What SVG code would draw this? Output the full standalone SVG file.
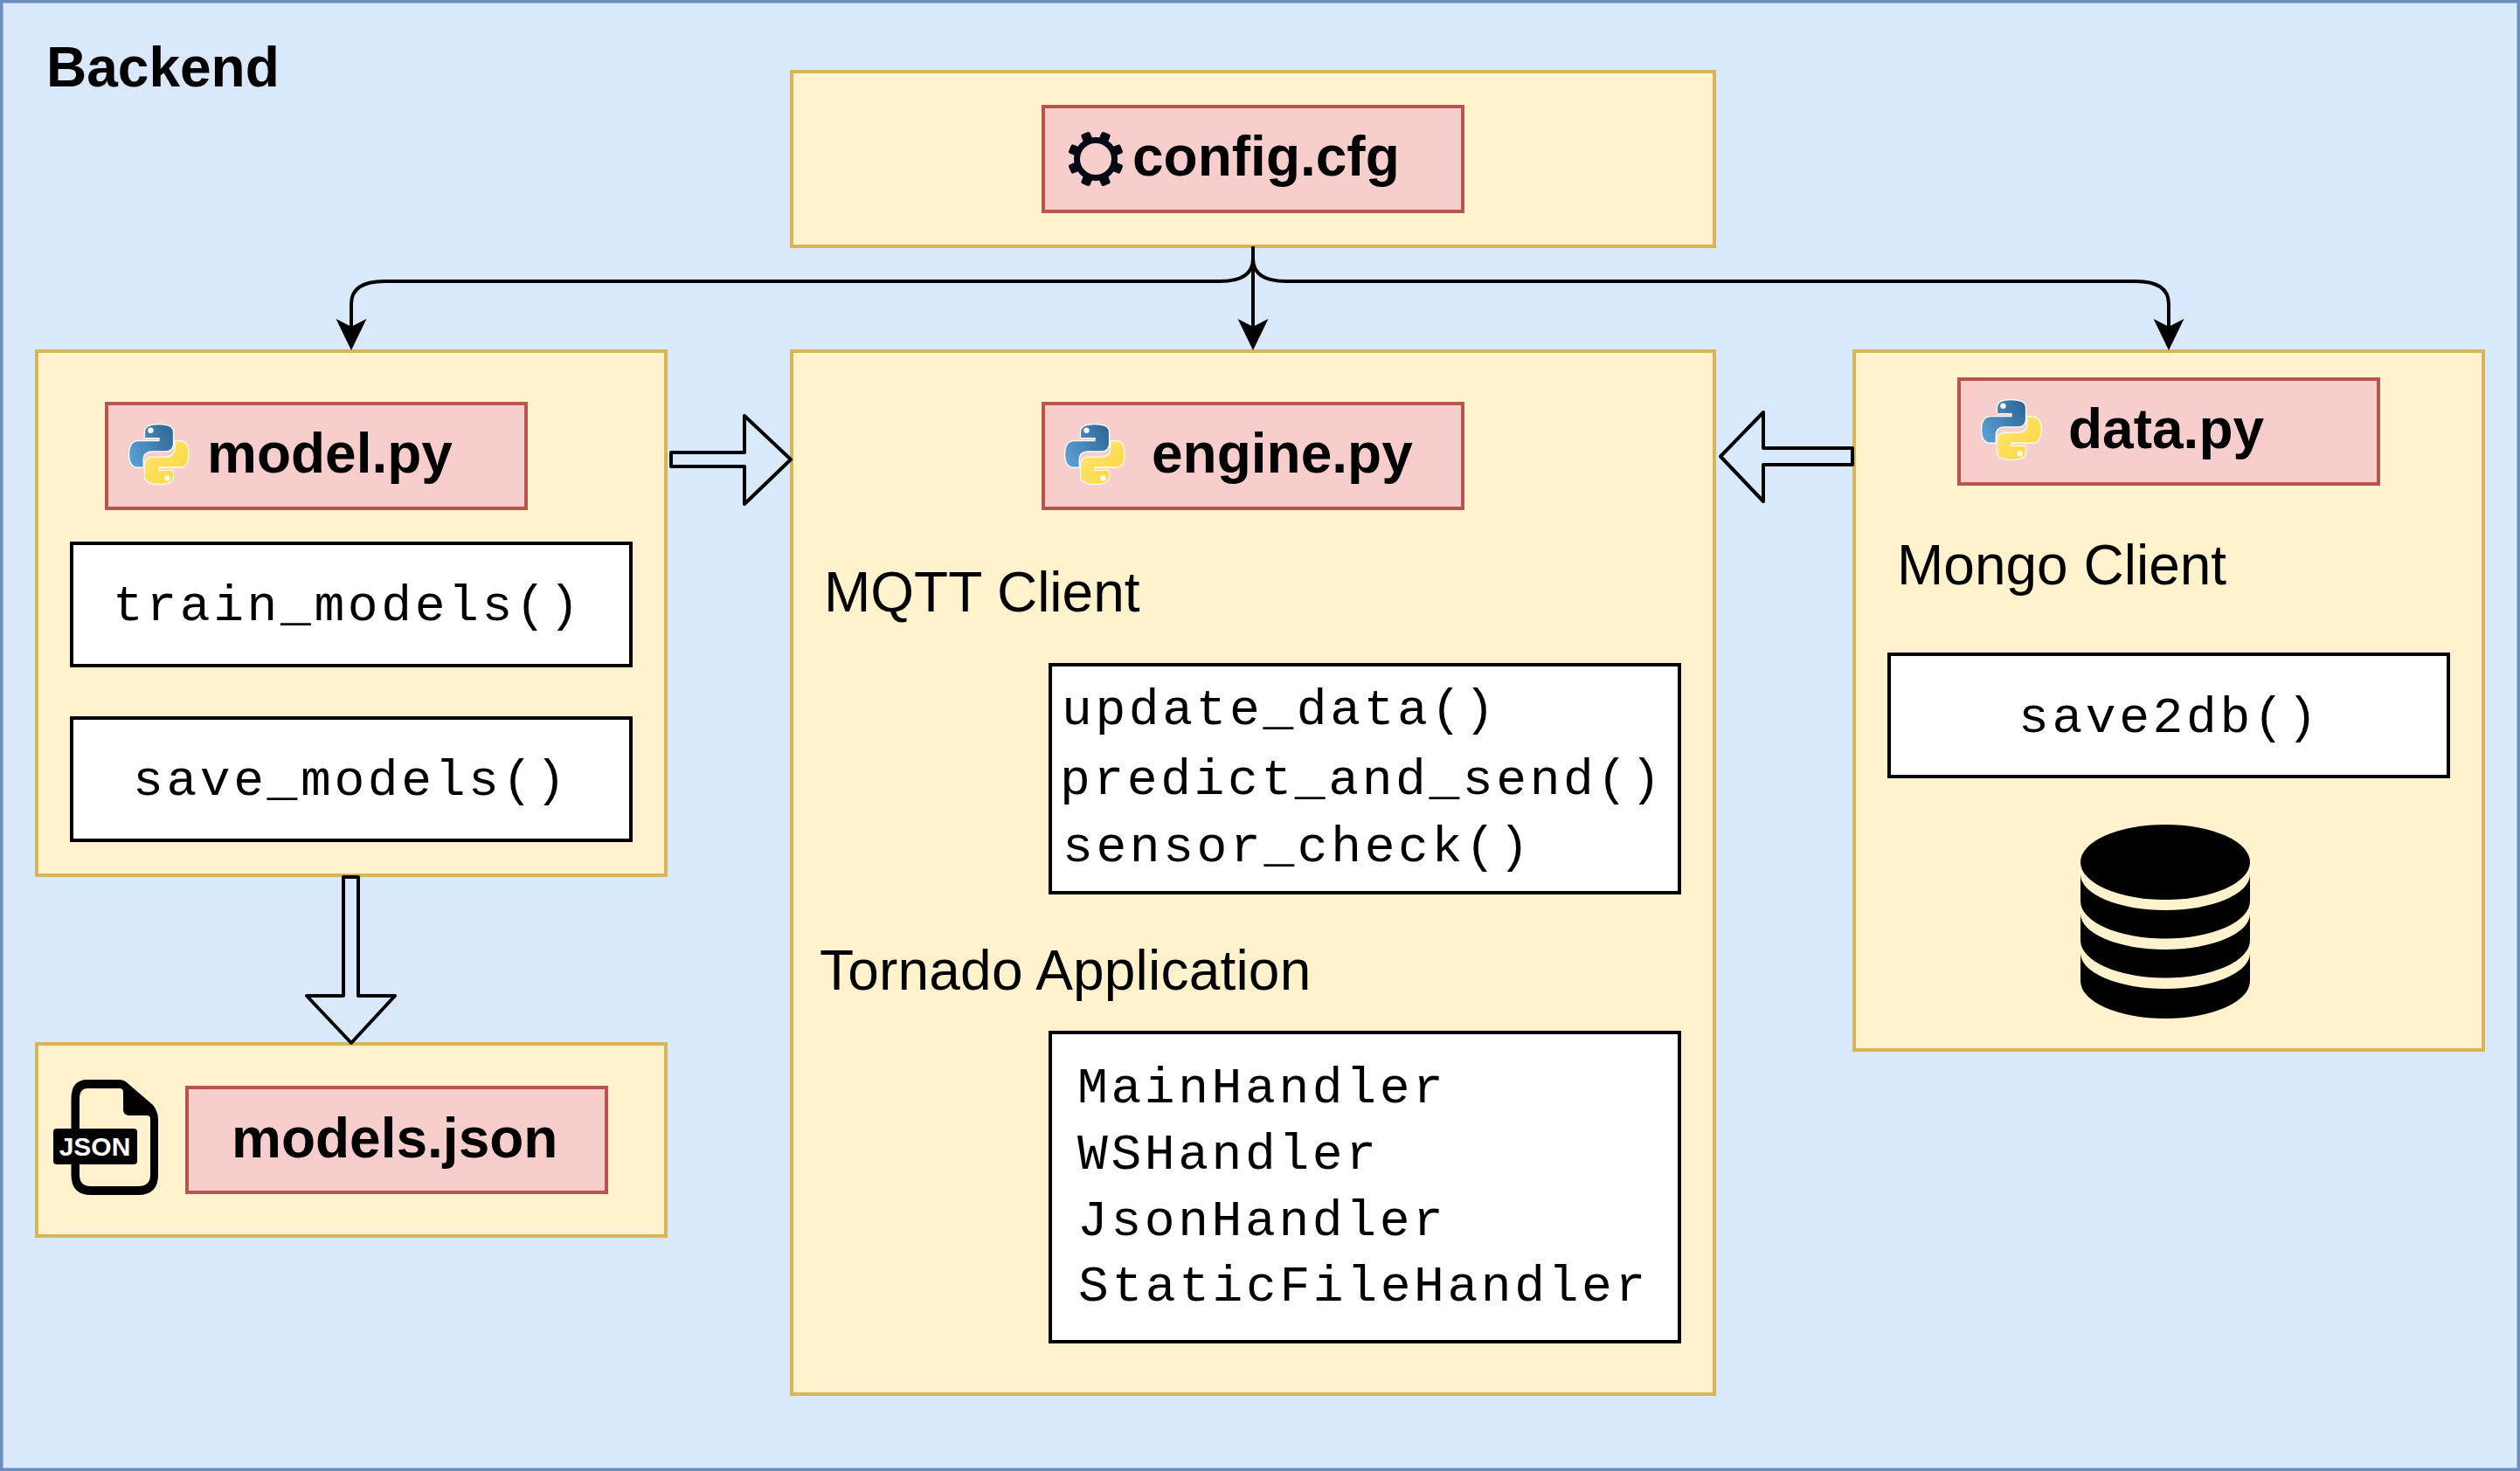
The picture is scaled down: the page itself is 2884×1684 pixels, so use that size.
<svg xmlns="http://www.w3.org/2000/svg" xmlns:xlink="http://www.w3.org/1999/xlink" width="2884" height="1684" viewBox="0 0 2884 1684">
<style>
.outer{fill:#fff2cc;stroke:#d6b656;stroke-width:4}
.file{fill:#f8cecc;stroke:#b85450;stroke-width:4}
.fn{fill:#fff;stroke:#000;stroke-width:4}
text{fill:#000}
.b{font:bold 64px "Liberation Sans",Arial,sans-serif}
.r{font:64px "Liberation Sans",Arial,sans-serif}
.m{font:58px "Liberation Mono","Courier New",monospace;letter-spacing:3.6px}
.edge{fill:none;stroke:#000;stroke-width:4}
.flex{fill:none;stroke:#000;stroke-width:4;stroke-linejoin:round}
</style>
<defs>
<marker id="head" markerUnits="userSpaceOnUse" markerWidth="40" markerHeight="40" refX="9" refY="18" orient="auto"><path d="M0 0.5L36 18L0 35.5L9 18Z" fill="#000"/></marker>
<linearGradient id="pyb" x1="0" y1="0.75" x2="1" y2="0.25"><stop offset="0" stop-color="#5a9fd4"/><stop offset="1" stop-color="#306998"/></linearGradient>
<linearGradient id="pyy" x1="1" y1="1" x2="0" y2="0"><stop offset="0" stop-color="#ffe873"/><stop offset="1" stop-color="#ffd43b"/></linearGradient>
<g id="py" transform="scale(0.636)">
<path id="pyhalf" d="M54 1C40 1 29 4 29 15L29 26L55 26L55 31L18 31C7 31 1 40 1 55C1 70 7 79 18 79L27 79L27 64C27 55 34 50 42 50L68 50C76 50 81 44 81 36L81 15C81 6 71 1 54 1Z" fill="url(#pyb)" stroke="#fff" stroke-width="2"/>
<circle cx="40" cy="12" r="5" fill="#fff"/>
<g transform="rotate(180 55 55)"><path d="M54 1C40 1 29 4 29 15L29 26L55 26L55 31L18 31C7 31 1 40 1 55C1 70 7 79 18 79L27 79L27 64C27 55 34 50 42 50L68 50C76 50 81 44 81 36L81 15C81 6 71 1 54 1Z" fill="url(#pyy)" stroke="#fff" stroke-width="2"/>
<circle cx="40" cy="12" r="5" fill="#fff"/></g>
</g>
</defs>
<rect id="backend" x="1.5" y="1.5" width="2881" height="1681" fill="#dae8fc" stroke="#6c8ebf" stroke-width="4"/>
<text class="b" x="53" y="99">Backend</text>

<g id="config">
<rect class="outer" x="906" y="82" width="1056" height="200"/>
<rect class="file" x="1194" y="122" width="480" height="120"/>
<g id="gear" transform="translate(1254 182)" fill="#000814">
<circle r="21.5" fill="none" stroke="#000814" stroke-width="7"/>
<rect x="-5.5" y="-32" width="11" height="13" rx="2.5" transform="rotate(22.5)"/>
<rect x="-5.5" y="-32" width="11" height="13" rx="2.5" transform="rotate(67.5)"/>
<rect x="-5.5" y="-32" width="11" height="13" rx="2.5" transform="rotate(112.5)"/>
<rect x="-5.5" y="-32" width="11" height="13" rx="2.5" transform="rotate(157.5)"/>
<rect x="-5.5" y="-32" width="11" height="13" rx="2.5" transform="rotate(202.5)"/>
<rect x="-5.5" y="-32" width="11" height="13" rx="2.5" transform="rotate(247.5)"/>
<rect x="-5.5" y="-32" width="11" height="13" rx="2.5" transform="rotate(292.5)"/>
<rect x="-5.5" y="-32" width="11" height="13" rx="2.5" transform="rotate(337.5)"/>
</g>
<text class="b" x="1296" y="201">config.cfg</text>
</g>

<g id="model">
<rect class="outer" x="42" y="402" width="720" height="600"/>
<rect class="file" x="122" y="462" width="480" height="120"/>
<use xlink:href="#py" href="#py" transform="translate(147 485)"/>
<text class="b" x="237" y="541">model.py</text>
<rect class="fn" x="82" y="622" width="640" height="140"/>
<text class="m" x="129" y="710">train_models()</text>
<rect class="fn" x="82" y="822" width="640" height="140"/>
<text class="m" x="152" y="910">save_models()</text>
</g>

<g id="models-json">
<rect class="outer" x="42" y="1195" width="720" height="220"/>
<path fill="#000" fill-rule="evenodd" d="M100 1236L136 1236Q142 1236 146 1240L175 1265Q181 1272 181 1282L181 1345Q181 1368 158 1368L104 1368Q81.5 1368 81.5 1345L81.5 1258Q81.5 1236 100 1236ZM100 1246Q91 1246 91 1258L91 1345Q91 1358 104 1358L158 1358Q172 1358 172 1345L172 1281Q172 1277 168 1277L148 1277Q141 1277 141 1270L141 1250Q141 1246 137 1246Z"/>
<rect x="61" y="1292" width="96" height="41" rx="4" fill="#000"/>
<text x="108.5" y="1323" text-anchor="middle" style="font:bold 30px 'Liberation Sans',sans-serif;fill:#fff">JSON</text>
<rect class="file" x="214" y="1245" width="480" height="120"/>
<text class="b" x="265" y="1325">models.json</text>
</g>

<g id="engine">
<rect class="outer" x="906" y="402" width="1056" height="1194"/>
<rect class="file" x="1194" y="462" width="480" height="120"/>
<use xlink:href="#py" href="#py" transform="translate(1218 485)"/>
<text class="b" x="1318" y="541">engine.py</text>
<text class="r" x="943" y="700">MQTT Client</text>
<rect class="fn" x="1202" y="761" width="720" height="261"/>
<text class="m" x="1215" y="829">update_data()</text>
<text class="m" x="1213" y="909">predict_and_send()</text>
<text class="m" x="1216" y="986">sensor_check()</text>
<text class="r" x="938" y="1133" style="letter-spacing:.2px">Tornado Application</text>
<rect class="fn" x="1202" y="1182" width="720" height="354"/>
<text class="m" x="1233" y="1262">MainHandler</text>
<text class="m" x="1233" y="1338">WSHandler</text>
<text class="m" x="1233" y="1414">JsonHandler</text>
<text class="m" x="1234" y="1489">StaticFileHandler</text>
</g>

<g id="data">
<rect class="outer" x="2122" y="402" width="720" height="800"/>
<rect class="file" x="2242" y="434" width="480" height="120"/>
<use xlink:href="#py" href="#py" transform="translate(2267 457)"/>
<text class="b" x="2367" y="513">data.py</text>
<text class="r" x="2171" y="669">Mongo Client</text>
<rect class="fn" x="2162" y="749" width="640" height="140"/>
<text class="m" x="2310" y="838">save2db()</text>
<g id="db" fill="#000">
<ellipse cx="2478" cy="987" rx="97" ry="43"/>
<path d="M2381 1001A97 41 0 0 0 2575 1001L2575 1031.5A97 43 0 0 1 2381 1031.5Z"/>
<path d="M2381 1046A97 41 0 0 0 2575 1046L2575 1076.5A97 43 0 0 1 2381 1076.5Z"/>
<path d="M2381 1091A97 41 0 0 0 2575 1091L2575 1123A97 43 0 0 1 2381 1123Z"/>
</g>
</g>

<g id="connectors">
<path class="edge" marker-end="url(#head)" d="M1434 282L1434 296Q1434 322 1396 322L440 322Q402 322 402 348L402 374"/>
<path class="edge" marker-end="url(#head)" d="M1434 282L1434 374"/>
<path class="edge" marker-end="url(#head)" d="M1434 282L1434 296Q1434 322 1472 322L2444 322Q2482 322 2482 348L2482 374"/>
<path class="flex" d="M768 518L852 518L852 476L905 526L852 577L852 534L768 534Z"/>
<path class="flex" d="M2120 513L2018 513L2018 472L1969 522.5L2018 574L2018 532L2120 532Z"/>
<path class="flex" d="M393 1004L410 1004L410 1140L452 1140L402 1194L351 1140L393 1140Z"/>
</g>
</svg>
